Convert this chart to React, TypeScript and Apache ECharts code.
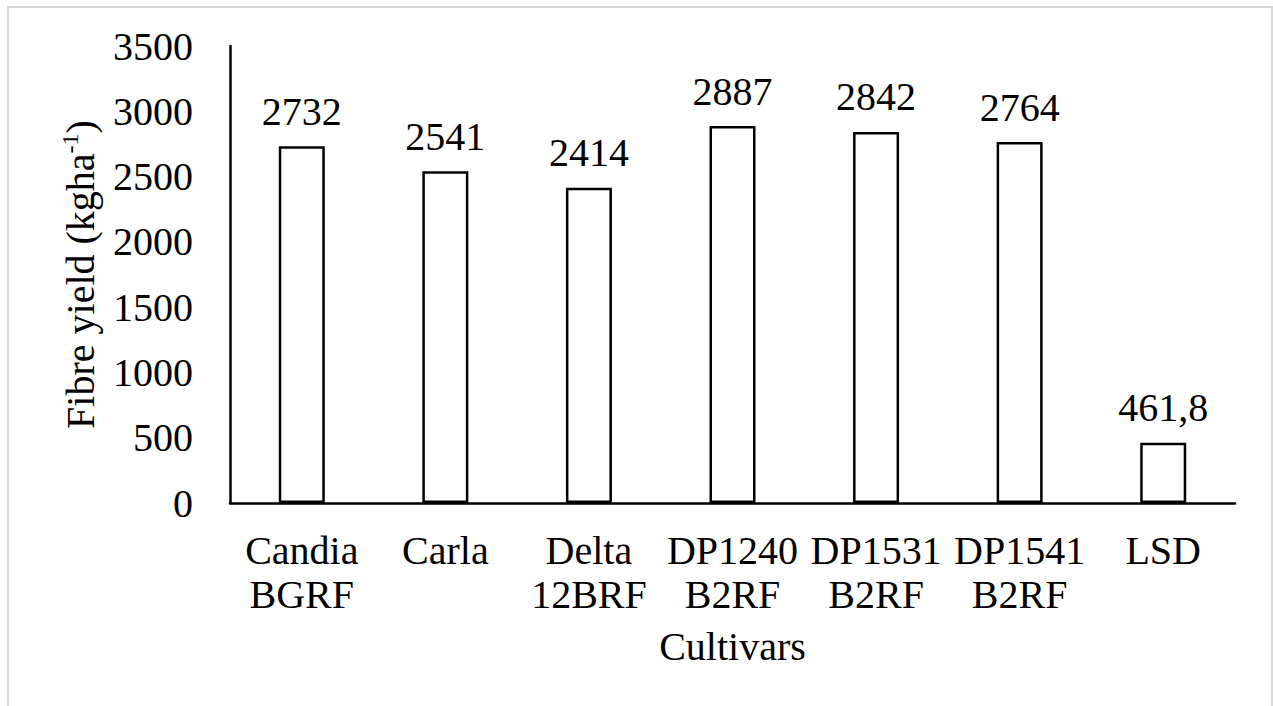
import React, { useEffect, useRef } from "react";
import * as echarts from "echarts";

const categories = [
  "Candia\nBGRF",
  "Carla",
  "Delta\n12BRF",
  "DP1240\nB2RF",
  "DP1531\nB2RF",
  "DP1541\nB2RF",
  "LSD",
];
const yieldValues = [2732, 2541, 2414, 2887, 2842, 2764, 461.8];
const valueLabels = ["2732", "2541", "2414", "2887", "2842", "2764", "461,8"];
const yMin = 0;
const yMax = 3500;
const yInterval = 500;

const FONT = "Liberation Serif";

export default function App() {
  const ref = useRef<HTMLDivElement>(null);
  useEffect(() => {
    if (!ref.current) return;
    const chart = echarts.init(ref.current, undefined, { renderer: "svg" });
    chart.setOption({
      animation: false,
      backgroundColor: "#ffffff",
      textStyle: { fontFamily: FONT, color: "#000" },
      graphic: [
        {
          type: "rect",
          shape: { x: 8, y: 7, width: 1264, height: 720 },
          style: { fill: "none", stroke: "#d9d9d9", lineWidth: 2 },
          silent: true,
          z: -10,
        },
      ],
      grid: { left: 230, right: 38, top: 46, bottom: 203, containLabel: false },
      xAxis: {
        type: "category",
        data: categories,
        name: "Cultivars",
        nameLocation: "middle",
        nameGap: 121,
        nameTextStyle: {
          fontFamily: FONT,
          fontSize: 40,
          color: "#000",
          lineHeight: 44,
          verticalAlign: "top",
        },
        axisLine: { lineStyle: { color: "#000", width: 2.5 } },
        axisTick: { show: false },
        axisLabel: {
          interval: 0,
          fontFamily: FONT,
          fontSize: 40,
          lineHeight: 44,
          color: "#000",
          margin: 25,
        },
        z: 5,
      },
      yAxis: {
        type: "value",
        min: yMin,
        max: yMax,
        interval: yInterval,
        name: "Fibre yield (kgha{sup|-1})",
        nameLocation: "middle",
        nameGap: 122,
        nameRotate: 90,
        nameTextStyle: {
          fontFamily: FONT,
          fontSize: 40,
          color: "#000",
          lineHeight: 44,
          rich: {
            sup: {
              fontFamily: FONT,
              fontSize: 24,
              color: "#000",
              verticalAlign: "top",
              lineHeight: 44,
              padding: [0, 0, 14, 0],
            },
          },
        },
        axisLine: { show: true, lineStyle: { color: "#000", width: 2.5 } },
        axisTick: { show: false },
        splitLine: { show: false },
        axisLabel: {
          fontFamily: FONT,
          fontSize: 40,
          color: "#000",
          margin: 37,
          formatter: (v: number) => String(v),
        },
      },
      series: [
        {
          type: "bar",
          data: yieldValues,
          barWidth: 46,
          itemStyle: { color: "#ffffff", borderColor: "#000", borderWidth: 2.5 },
          label: {
            show: true,
            position: "top",
            distance: 15,
            fontFamily: FONT,
            fontSize: 40,
            color: "#000",
            formatter: (p: any) => valueLabels[p.dataIndex],
          },
        },
      ],
    });
    return () => chart.dispose();
  }, []);
  return (
    <div
      ref={ref}
      style={{ position: "absolute", left: 0, top: 0, width: 1273, height: 706 }}
    />
  );
}
